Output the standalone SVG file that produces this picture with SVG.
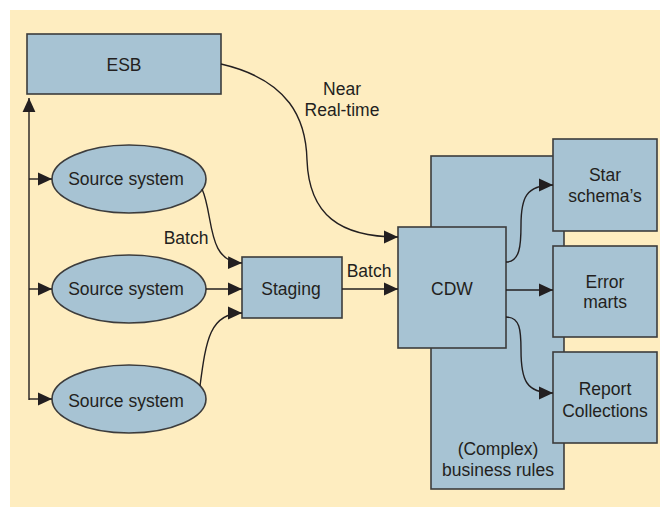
<svg xmlns="http://www.w3.org/2000/svg" width="660" height="507" viewBox="0 0 660 507">
<style>
.box{fill:#a7c3d3;stroke:#3c3c3c;stroke-width:1.6}
.t{font-family:"Liberation Sans",Arial,sans-serif;font-size:17.5px;fill:#231f20;text-anchor:middle}
.c{fill:none;stroke:#231f20;stroke-width:1.4}
</style>
<defs>
<marker id="ah" markerUnits="userSpaceOnUse" markerWidth="14" markerHeight="14" viewBox="0 0 12 12" refX="12" refY="6" orient="auto">
<path d="M0,0.5 L12,6 L0,11.5 Z" fill="#231f20"/>
</marker>
</defs>
<rect x="10" y="10" width="650" height="497" fill="#feedc0"/>
<g id="rules"><rect class="box" x="431" y="156" width="133" height="333"/><text class="t" x="498" y="455">(Complex)</text><text class="t" x="498" y="476">business rules</text></g>
<g id="esb"><rect class="box" x="27" y="34" width="194" height="60"/><text class="t" x="124" y="71">ESB</text></g>
<g id="src1"><ellipse class="box" cx="129" cy="179" rx="77" ry="34"/><text class="t" x="126" y="185">Source system</text></g>
<g id="src2"><ellipse class="box" cx="129" cy="289" rx="77" ry="34"/><text class="t" x="126" y="295">Source system</text></g>
<g id="src3"><ellipse class="box" cx="129" cy="399" rx="77" ry="34"/><text class="t" x="126" y="407">Source system</text></g>
<g id="staging"><rect class="box" x="242" y="257" width="100" height="61"/><text class="t" x="291" y="295">Staging</text></g>
<g id="cdw"><rect class="box" x="398" y="227" width="108" height="121"/><text class="t" x="452" y="295">CDW</text></g>
<g id="star"><rect class="box" x="553" y="139" width="104" height="92"/><text class="t" x="605" y="181">Star</text><text class="t" x="605" y="202">schema’s</text></g>
<g id="error"><rect class="box" x="553" y="246" width="104" height="91"/><text class="t" x="605" y="288">Error</text><text class="t" x="605" y="308">marts</text></g>
<g id="report"><rect class="box" x="553" y="352" width="104" height="91"/><text class="t" x="605" y="395">Report</text><text class="t" x="605" y="417">Collections</text></g>
<g id="connectors">
<path class="c" d="M29,400 L29,98" marker-end="url(#ah)"/>
<path class="c" d="M29,179 L52,179" marker-end="url(#ah)"/>
<path class="c" d="M29,289 L52,289" marker-end="url(#ah)"/>
<path class="c" d="M29,399 L52,399" marker-end="url(#ah)"/>
<path class="c" d="M202,189 C214,215 206,262 242,263" marker-end="url(#ah)"/>
<path class="c" d="M206,289 L242,289" marker-end="url(#ah)"/>
<path class="c" d="M200,386 C206,340 210,313 242,313" marker-end="url(#ah)"/>
<path class="c" d="M342,289 L398,289" marker-end="url(#ah)"/>
<path class="c" d="M221,64 C290,80 306,120 307,160 C309,215 340,237 398,237" marker-end="url(#ah)"/>
<path class="c" d="M506,262 C520,262 521,245 521,225 C521,198 526,185 553,185" marker-end="url(#ah)"/>
<path class="c" d="M506,290 L553,290" marker-end="url(#ah)"/>
<path class="c" d="M506,317 C520,317 521,330 521,350 C521,380 526,393 553,393" marker-end="url(#ah)"/>
<text class="t" x="186" y="244">Batch</text>
<text class="t" x="369" y="277">Batch</text>
<text class="t" x="342" y="95">Near</text>
<text class="t" x="342" y="116">Real-time</text>
</g>
</svg>
